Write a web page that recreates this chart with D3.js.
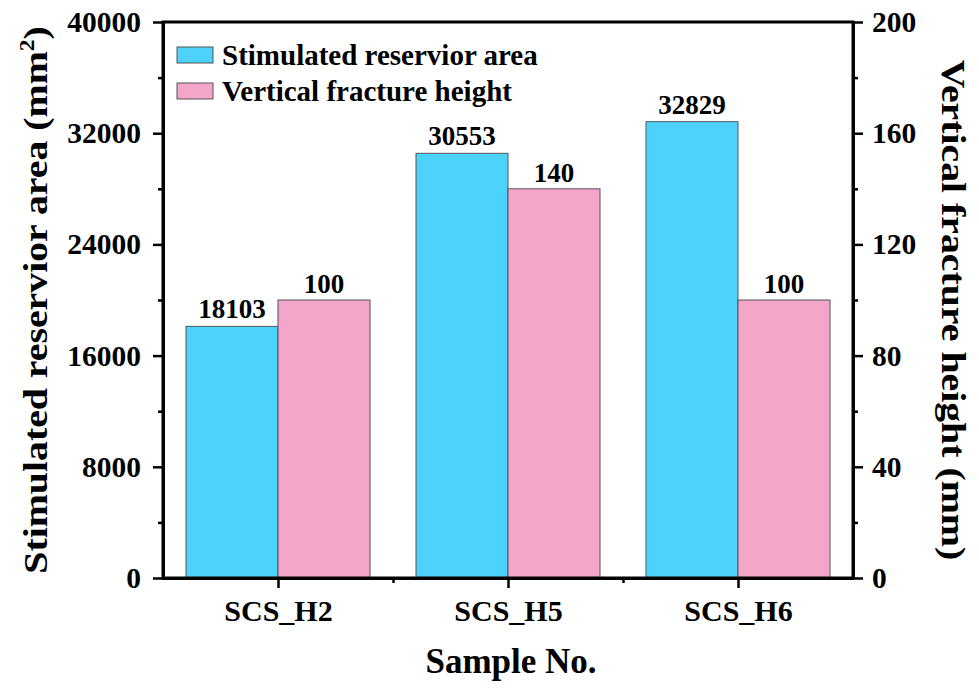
<!DOCTYPE html>
<html><head><meta charset="utf-8">
<script src="https://cdn.jsdelivr.net/npm/d3@7"></script>
<style>body{margin:0;background:#fff}text{font-family:"Liberation Serif","Times New Roman",serif;font-weight:bold;fill:#000}</style>
</head><body><svg id="c" width="979" height="688"></svg>
<script>
const categories = ["SCS_H2","SCS_H5","SCS_H6"];
const areaValues = [18103, 30553, 32829];
const heightValues = [100, 140, 100];
const leftTicks = [0, 8000, 16000, 24000, 32000, 40000];
const rightTicks = [0, 40, 80, 120, 160, 200];
const seriesNames = ["Stimulated reservior area", "Vertical fracture height"];
const colors = ["#4dd2fc", "#f3a5ca"];

const svg = d3.select("#c");
const L = 163, R = 853, T = 22, B = 578;
const x = d3.scaleLinear().domain([0.5, 3.5]).range([L, R]);
const yL = d3.scaleLinear().domain([0, 40000]).range([B, T]);
const yR = d3.scaleLinear().domain([0, 200]).range([B, T]);
const bw = 0.4;

// bars
categories.forEach((c, i) => {
  const cx = i + 1;
  svg.append("rect").attr("x", x(cx - bw)).attr("width", x(cx) - x(cx - bw))
    .attr("y", yL(areaValues[i])).attr("height", B - yL(areaValues[i]))
    .attr("fill", colors[0]).attr("stroke", "#555").attr("stroke-width", 1);
  svg.append("rect").attr("x", x(cx)).attr("width", x(cx + bw) - x(cx))
    .attr("y", yR(heightValues[i])).attr("height", B - yR(heightValues[i]))
    .attr("fill", colors[1]).attr("stroke", "#555").attr("stroke-width", 1);
  svg.append("text").attr("x", x(cx - bw / 2)).attr("y", yL(areaValues[i]) - 8)
    .attr("text-anchor", "middle").attr("font-size", 27).text(areaValues[i]);
  svg.append("text").attr("x", x(cx + bw / 2)).attr("y", yR(heightValues[i]) - 7)
    .attr("text-anchor", "middle").attr("font-size", 27).text(heightValues[i]);
});

// frame
svg.append("rect").attr("x", L).attr("y", T).attr("width", R - L).attr("height", B - T)
  .attr("fill", "none").attr("stroke", "#000").attr("stroke-width", 3);

function styleAxis(fs) {
  return g => {
    g.selectAll("path").attr("stroke", "#000").attr("stroke-width", 3);
    g.selectAll("line").attr("stroke", "#000").attr("stroke-width", 2.5);
    g.selectAll("text").attr("font-size", fs).attr("font-family", "Liberation Serif").attr("font-weight", "bold").attr("fill", "#000");
  };
}
// minor ticks
const minorL = d3.range(4000, 40000, 8000);
const minorR = d3.range(20, 200, 40);
svg.append("g").attr("transform", `translate(${L},0)`)
  .call(d3.axisLeft(yL).tickValues(minorL).tickSize(5).tickFormat("").tickSizeOuter(0))
  .call(styleAxis(29));
svg.append("g").attr("transform", `translate(${R},0)`)
  .call(d3.axisRight(yR).tickValues(minorR).tickSize(5).tickFormat("").tickSizeOuter(0))
  .call(styleAxis(29));
svg.append("g").attr("transform", `translate(0,${B})`)
  .call(d3.axisBottom(x).tickValues([1.5, 2.5]).tickSize(5).tickFormat("").tickSizeOuter(0))
  .call(styleAxis(29));

svg.append("g").attr("transform", `translate(${L},0)`)
  .call(d3.axisLeft(yL).tickValues(leftTicks).tickSize(10).tickPadding(12).tickFormat(d => d).tickSizeOuter(0))
  .call(styleAxis(29.5));
svg.append("g").attr("transform", `translate(${R},0)`)
  .call(d3.axisRight(yR).tickValues(rightTicks).tickSize(10).tickPadding(9).tickFormat(d => d).tickSizeOuter(0))
  .call(styleAxis(29.5));
svg.append("g").attr("transform", `translate(0,${B})`)
  .call(d3.axisBottom(x).tickValues([1, 2, 3]).tickSize(10).tickPadding(12).tickFormat(d => categories[d - 1]).tickSizeOuter(0))
  .call(styleAxis(30));

// axis titles
svg.append("text").attr("x", 511).attr("y", 673).attr("text-anchor", "middle")
  .attr("font-size", 35).text("Sample No.");
const lt = svg.append("text").attr("transform", `translate(47,300) rotate(-90) scale(1.17,1)`)
  .attr("text-anchor", "middle").attr("font-size", 34);
lt.append("tspan").text("Stimulated reservior area (mm");
lt.append("tspan").attr("font-size", 20).attr("dy", -13).text("2");
lt.append("tspan").attr("dy", 13).text(")");
svg.append("text").attr("transform", `translate(942,310) rotate(90) scale(1.17,1)`)
  .attr("text-anchor", "middle").attr("font-size", 34).text("Vertical fracture height (mm)");

// legend
seriesNames.forEach((s, i) => {
  const yy = 47 + i * 36;
  svg.append("rect").attr("x", 177).attr("y", yy).attr("width", 36).attr("height", 16)
    .attr("fill", colors[i]).attr("stroke", "#555").attr("stroke-width", 1);
  svg.append("text").attr("x", 222).attr("y", yy + 18).attr("font-size", 29).text(s);
});
</script></body></html>
